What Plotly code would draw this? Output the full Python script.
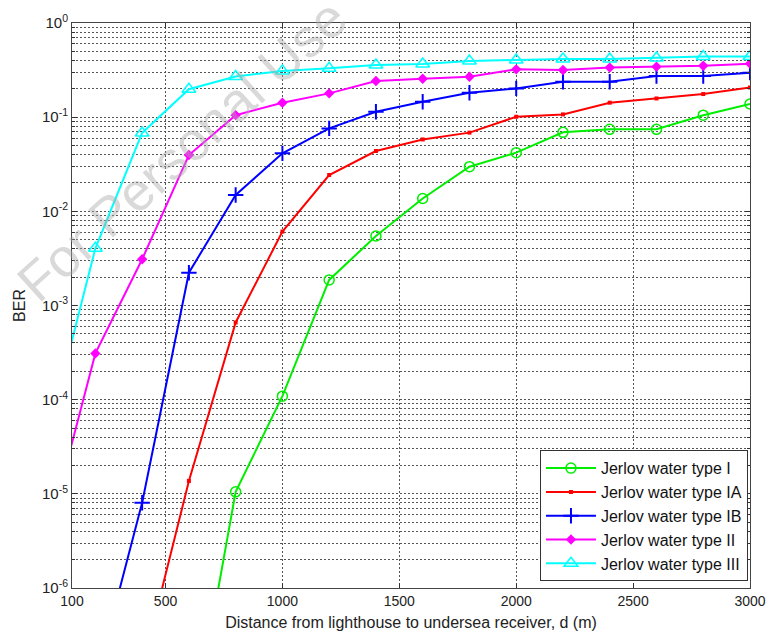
import plotly.graph_objects as go

# distances (m)
distance = [0, 200, 400, 600, 800, 1000, 1200, 1400, 1600, 1800, 2000, 2200, 2400, 2600, 2800, 3000]

ber_I = [None, None, None, 1.8e-8, 1.05e-5, 1.09e-4, 1.87e-3, 5.47e-3, 0.0137, 0.0298, 0.042,
         0.069, 0.0743, 0.0743, 0.105, 0.138]
ber_IA = [None, None, 1.4e-7, 1.37e-5, 6.6e-4, 6.1e-3, 0.0243, 0.0437, 0.058, 0.0685, 0.101,
          0.107, 0.1425, 0.158, 0.176, 0.207]
ber_IB = [None, 1.0e-7, 8.05e-6, 2.23e-3, 0.0149, 0.0413, 0.076, 0.114, 0.146, 0.182, 0.202,
          0.238, 0.238, 0.274, 0.274, 0.297]
ber_II = [3.9e-6, 3.1e-4, 3.1e-3, 0.0396, 0.105, 0.1425, 0.179, 0.242, 0.256, 0.269, 0.322,
          0.317, 0.336, 0.344, 0.352, 0.37]
ber_III = [4.5e-5, 4.05e-3, 0.068, 0.198, 0.27, 0.31, 0.33, 0.358, 0.367, 0.395, 0.405,
           0.415, 0.415, 0.425, 0.44, 0.44]

names = ["Jerlov water type I", "Jerlov water type IA", "Jerlov water type IB",
         "Jerlov water type II", "Jerlov water type III"]

x_tickvals = [100, 500, 1000, 1500, 2000, 2500, 3000]
y_exponents = [-6, -5, -4, -3, -2, -1, 0]

FONT = "Liberation Sans, Arial, Helvetica, sans-serif"

fig = go.Figure()

styles = [
    (ber_I, "#00ee00", dict(symbol="circle-open", size=10, line=dict(width=1.5, color="#00ee00"))),
    (ber_IA, "#ff0000", dict(symbol="square", size=4, color="#ff0000")),
    (ber_IB, "#0000ff", dict(symbol="cross-thin", size=11, line=dict(width=2, color="#0000ff"))),
    (ber_II, "#ff00ff", dict(symbol="diamond", size=8, color="#ff00ff")),
    (ber_III, "#00ffff", dict(symbol="triangle-up-open", size=12, line=dict(width=1.5, color="#00ffff"))),
]

for (vals, col, mk), nm in zip(styles, names):
    fig.add_trace(go.Scatter(
        x=distance, y=vals, name=nm, mode="lines+markers",
        line=dict(color=col, width=2), marker=mk, connectgaps=False,
    ))

grid_col = "#555555"

fig.update_xaxes(
    range=[100, 3000], tickvals=x_tickvals, ticktext=[str(v) for v in x_tickvals],
    showgrid=True, gridcolor=grid_col, griddash="2px,2px", gridwidth=1,
    ticks="inside", ticklen=5, tickcolor="#333",
    showline=True, linecolor="#444", linewidth=1, mirror="allticks",
    tickfont=dict(family=FONT, size=14, color="#222"),
    title=dict(text="Distance from lighthouse to undersea receiver, d (m)",
               font=dict(family=FONT, size=16, color="#222"), standoff=9),
    zeroline=False, automargin=False,
)

fig.update_yaxes(
    type="log", range=[-6, 0],
    tickvals=[10 ** e for e in y_exponents],
    ticktext=["10<sup>%d</sup>" % e for e in y_exponents],
    showgrid=True, gridcolor=grid_col, griddash="2px,2px", gridwidth=1,
    ticks="inside", ticklen=5, tickcolor="#333",
    minor=dict(dtick="D1", showgrid=True, gridcolor=grid_col, griddash="2px,2px",
               ticks="inside", ticklen=3, tickcolor="#333"),
    showline=True, linecolor="#444", linewidth=1, mirror="allticks",
    tickfont=dict(family=FONT, size=15, color="#222"),
    title=dict(text="BER", font=dict(family=FONT, size=16, color="#222"), standoff=12),
    zeroline=False, automargin=False,
)

fig.add_annotation(
    text="For Personal Use", xref="paper", yref="paper", x=0.162, y=0.775,
    xanchor="center", yanchor="middle",
    showarrow=False, textangle=-42,
    font=dict(family=FONT, size=54, color="rgba(170,170,170,0.45)"),
)

fig.update_layout(
    width=767, height=637,
    margin=dict(l=72, r=17, t=23, b=49),
    paper_bgcolor="white", plot_bgcolor="white",
    font=dict(family=FONT, size=13, color="#222"),
    legend=dict(
        x=0.997, y=0.012, xanchor="right", yanchor="bottom",
        bgcolor="white", bordercolor="#333", borderwidth=1,
        font=dict(family=FONT, size=16, color="#111"),
        itemwidth=50,
    ),
    showlegend=True,
)

fig.write_html("out.html")
